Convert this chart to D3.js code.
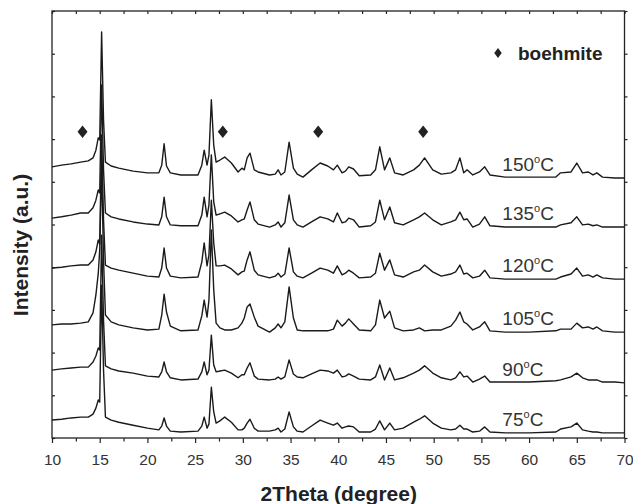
<!DOCTYPE html>
<html>
<head>
<meta charset="utf-8">
<script src="https://d3js.org/d3.v7.min.js"></script>
<style>
  body { margin: 0; background: #fff; }
  text { font-family: "Liberation Sans", Arial, sans-serif; fill: #222; }
</style>
</head>
<body>
<div id="chart"></div>
<script>

// 2theta grid (degree), shared by all six patterns
var twoTheta = [10, 11, 12, 13, 13.8, 14.3, 14.6, 14.85, 15.0, 15.2,
  15.4, 15.6, 16.2, 17, 18.5, 20, 21.2, 21.5, 21.75, 22.0,
  22.4, 23.5, 25.3, 25.7, 25.95, 26.25, 26.45, 26.7, 26.95, 27.2,
  27.6, 28.1, 28.8, 29.5, 29.9, 30.15, 30.45, 30.75, 31.2, 31.6,
  32.8, 33.4, 33.7, 34.0, 34.4, 34.85, 35.3, 35.7, 36.3, 37.2,
  38.1, 38.9, 39.5, 39.9, 40.4, 40.75, 41.1, 41.6, 42.2, 43.4,
  43.9, 44.35, 44.85, 45.4, 45.9, 46.8, 47.9, 48.5, 49.05, 49.9,
  50.8, 51.8, 52.3, 52.75, 53.15, 53.5, 54.1, 54.8, 55.35, 55.9,
  57.5, 60, 62.8, 63.3, 64.4, 65.0, 65.6, 66.2, 66.7, 67.1, 67.7, 69, 70];

// intensity (a.u., stacked)
var i75 = [4.2, 4.4, 4.7, 4.9, 4.9, 5.6, 7.0, 8.9, 8.4, 35.8,
  15.9, 4.9, 4.2, 3.7, 3.0, 2.3, 1.9, 2.8, 4.7, 2.8,
  1.6, 1.4, 1.6, 2.8, 4.9, 2.3, 3.3, 11.9, 6.1, 3.5,
  4.0, 4.9, 3.7, 1.9, 1.9, 2.3, 3.5, 4.4, 2.3, 1.6,
  1.6, 1.9, 2.3, 1.4, 2.1, 6.1, 2.6, 1.6, 1.4, 2.8,
  4.2, 3.5, 3.0, 3.5, 2.3, 2.6, 2.8, 2.6, 1.4, 1.4,
  2.1, 4.0, 1.9, 3.5, 1.9, 2.3, 3.7, 4.4, 5.2, 3.5,
  2.3, 1.9, 2.1, 3.0, 2.1, 2.1, 1.4, 1.6, 2.6, 1.4,
  1.2, 1.2, 1.4, 2.1, 2.6, 3.5, 1.9, 1.6, 1.4, 1.4, 1.2, 1.2, 1.2];

var i90 = [15.9, 16.2, 16.4, 16.6, 16.6, 17.8, 19.2, 21.1, 20.6, 47.5,
  27.6, 16.9, 16.2, 15.7, 15.2, 14.5, 14.3, 15.5, 17.8, 15.5,
  14.1, 13.6, 13.8, 15.5, 17.8, 14.8, 15.9, 24.1, 17.1, 15.5,
  15.7, 15.9, 15.2, 14.1, 14.8, 14.8, 16.4, 17.6, 14.5, 13.8,
  13.6, 13.8, 14.3, 13.8, 14.3, 18.3, 15.0, 14.3, 14.1, 15.0,
  15.9, 15.7, 15.2, 15.9, 14.3, 14.5, 15.0, 14.5, 13.8, 13.6,
  14.3, 17.1, 13.6, 16.4, 13.6, 14.1, 15.2, 15.9, 16.9, 15.2,
  14.1, 13.6, 14.1, 15.5, 14.3, 14.5, 13.1, 13.8, 14.5, 13.1,
  13.1, 13.1, 13.4, 13.6, 14.3, 15.2, 14.1, 13.6, 13.6, 13.6, 13.1, 13.1, 12.9];

var i105 = [26.5, 26.7, 26.7, 26.9, 27.2, 29.3, 33.5, 38.6, 44.0, 63.9,
  41.7, 28.8, 27.2, 26.5, 25.8, 25.3, 25.5, 28.8, 33.7, 29.5,
  26.2, 25.1, 25.3, 28.6, 32.3, 28.3, 32.3, 48.7, 34.7, 26.9,
  25.8, 25.3, 25.3, 25.8, 26.9, 28.1, 30.7, 31.4, 28.3, 26.2,
  24.8, 25.8, 26.7, 25.8, 27.2, 35.4, 28.1, 25.3, 25.1, 25.1,
  25.1, 25.1, 25.5, 27.6, 26.2, 26.9, 27.9, 26.7, 25.3, 25.1,
  26.5, 32.3, 28.1, 29.7, 25.8, 25.1, 25.3, 25.8, 25.1, 25.3,
  25.3, 26.2, 27.6, 29.5, 27.2, 26.7, 25.3, 26.0, 27.2, 25.1,
  24.8, 24.8, 25.1, 25.5, 25.5, 26.9, 25.8, 26.0, 25.5, 26.0, 25.1, 24.8, 24.8];

var i120 = [39.8, 40.0, 40.3, 40.5, 40.5, 41.7, 43.6, 46.4, 45.4, 71.0,
  51.1, 40.5, 39.8, 39.3, 38.6, 37.9, 37.7, 39.8, 44.5, 39.8,
  37.9, 37.5, 37.7, 41.2, 45.7, 40.3, 42.9, 55.7, 45.7, 40.3,
  40.3, 40.5, 39.6, 38.2, 38.9, 39.1, 41.7, 43.6, 39.3, 38.2,
  37.5, 37.9, 38.6, 37.7, 38.4, 44.5, 38.9, 37.9, 37.5, 38.6,
  39.8, 39.3, 38.6, 40.3, 38.2, 38.6, 39.3, 38.6, 37.5, 37.7,
  38.6, 43.3, 39.3, 41.7, 38.2, 37.7, 38.9, 39.3, 40.5, 38.9,
  37.9, 38.4, 38.9, 40.5, 38.4, 38.6, 37.5, 37.9, 39.3, 37.5,
  37.2, 37.2, 37.2, 37.7, 38.4, 39.8, 37.9, 38.2, 37.7, 38.2, 37.5, 37.2, 37.2];

var i135 = [51.5, 51.8, 52.2, 52.7, 52.7, 53.9, 55.7, 58.1, 57.4, 82.7,
  62.8, 52.7, 51.8, 51.3, 50.6, 50.1, 49.9, 51.8, 56.4, 51.8,
  49.9, 49.7, 49.7, 52.2, 56.4, 51.8, 54.6, 66.3, 55.3, 52.2,
  52.5, 52.9, 52.0, 50.6, 51.1, 51.3, 53.4, 55.3, 51.1, 50.1,
  49.4, 49.9, 50.6, 49.4, 50.4, 56.9, 51.1, 49.9, 49.4, 50.6,
  51.8, 51.3, 50.6, 52.7, 50.4, 50.6, 51.5, 51.1, 49.4, 49.7,
  50.6, 55.7, 51.1, 54.1, 50.4, 49.9, 51.1, 51.8, 52.7, 51.1,
  49.9, 50.6, 51.1, 52.9, 51.1, 51.3, 49.4, 50.1, 51.8, 49.7,
  49.4, 49.4, 49.4, 49.9, 50.4, 51.8, 49.9, 50.1, 49.7, 49.9, 49.4, 49.4, 49.4];

var i150 = [63.5, 63.9, 64.2, 64.6, 64.9, 65.6, 67.4, 70.3, 69.8, 95.1,
  74.5, 64.6, 63.7, 63.2, 62.5, 62.1, 62.1, 63.9, 68.9, 63.7,
  62.1, 61.6, 61.6, 63.9, 67.4, 63.9, 66.3, 79.2, 68.6, 64.6,
  65.1, 65.8, 64.4, 62.3, 63.2, 62.8, 65.6, 66.7, 62.8, 62.3,
  61.6, 61.8, 62.8, 61.6, 62.3, 69.3, 63.2, 61.8, 61.1, 62.8,
  64.4, 63.7, 62.8, 63.9, 62.1, 62.5, 63.5, 63.0, 61.4, 61.6,
  62.8, 68.2, 62.8, 65.6, 62.1, 61.6, 62.8, 63.9, 65.6, 62.8,
  61.8, 62.1, 62.8, 65.6, 62.1, 62.8, 61.6, 62.3, 63.5, 61.6,
  61.1, 61.1, 61.1, 62.1, 62.3, 64.4, 62.1, 62.3, 61.6, 62.1, 61.1, 60.9, 60.9];

var temps = ["75", "90", "105", "120", "135", "150"];
var patterns = [i75, i90, i105, i120, i135, i150];

// boehmite reflections marked with a diamond
var boehmitePeaks = [13.2, 27.9, 37.9, 48.9];

var width = 633, height = 504;
var plotLeft = 52, plotRight = 624.5, plotTop = 11, plotBottom = 438;

var svg = d3.select("#chart").append("svg")
  .attr("width", width)
  .attr("height", height);

var x = d3.scaleLinear().domain([10, 70]).range([plotLeft, plotRight]);
var y = d3.scaleLinear().domain([0, 100]).range([plotBottom, plotTop]);

var ink = "#222";

// minor + major ticks on the bottom, labels only on the majors
svg.append("g")
  .attr("transform", "translate(0," + plotBottom + ")")
  .call(d3.axisBottom(x).tickValues(d3.range(12.5, 70, 5)).tickSize(3.5).tickFormat(""));
svg.append("g")
  .attr("class", "xaxis")
  .attr("transform", "translate(0," + plotBottom + ")")
  .call(d3.axisBottom(x).tickValues(d3.range(10, 70.1, 5)).tickSize(5).tickPadding(11).tickFormat(d3.format("d")));
// top ticks pointing in
svg.append("g")
  .attr("transform", "translate(0," + plotTop + ")")
  .call(d3.axisBottom(x).tickValues(d3.range(10, 70.1, 2.5)).tickSize(3).tickFormat(""));
// left ticks pointing in, right ticks pointing out
svg.append("g")
  .attr("transform", "translate(" + plotLeft + ",0)")
  .call(d3.axisRight(y).tickValues(d3.range(0, 100.1, 10)).tickSize(3).tickFormat(""));
svg.append("g")
  .attr("transform", "translate(" + plotRight + ",0)")
  .call(d3.axisRight(y).tickValues(d3.range(0, 100.1, 10)).tickSize(3).tickFormat(""));

svg.selectAll(".domain").remove();
svg.selectAll(".tick line").attr("stroke", ink).attr("stroke-width", 1.2);
svg.selectAll(".xaxis text").style("font-size", "15.5px").style("fill", "#333");

svg.append("rect")
  .attr("x", plotLeft).attr("y", plotTop)
  .attr("width", plotRight - plotLeft).attr("height", plotBottom - plotTop)
  .attr("fill", "none").attr("stroke", ink).attr("stroke-width", 1.3);

// the patterns
var line = d3.line()
  .x(function(d) { return x(d[0]); })
  .y(function(d) { return y(d[1]); });

svg.selectAll(".pattern")
  .data(patterns)
  .enter().append("path")
  .attr("class", "pattern")
  .attr("d", function(d) { return line(d3.zip(twoTheta, d)); })
  .attr("fill", "none")
  .attr("stroke", "#1a1a1a")
  .attr("stroke-width", 1.4)
  .attr("stroke-linejoin", "round");

// temperature labels sit just above the flat right end of each curve
var lab = svg.selectAll(".temp")
  .data(patterns)
  .enter().append("text")
  .attr("class", "temp")
  .attr("x", x(57.2))
  .attr("y", function(d) { return y(d[d.length - 1]) - 7; })
  .style("font-size", "19px")
  .style("fill", "#333");
lab.append("tspan").text(function(d, i) { return temps[i]; });
lab.append("tspan").text("o").attr("dy", -8).style("font-size", "11px");
lab.append("tspan").text("C").attr("dy", 8);

// diamond markers
function diamond(w, h) {
  return "M0," + (-h / 2) + "L" + (w / 2) + ",0L0," + (h / 2) + "L" + (-w / 2) + ",0Z";
}
svg.selectAll(".mark")
  .data(boehmitePeaks)
  .enter().append("path")
  .attr("class", "mark")
  .attr("transform", function(d) { return "translate(" + x(d) + "," + y(71.7) + ")"; })
  .attr("d", diamond(10, 12.5))
  .attr("fill", ink);

// legend
svg.append("path")
  .attr("transform", "translate(498,53)")
  .attr("d", diamond(7.5, 10))
  .attr("fill", ink);
svg.append("text")
  .attr("x", 518).attr("y", 59.5)
  .style("font-size", "19px").style("font-weight", "bold")
  .text("boehmite");

// axis titles
svg.append("text")
  .attr("x", (plotLeft + plotRight) / 2 + 0.5).attr("y", 501)
  .attr("text-anchor", "middle")
  .style("font-size", "21px").style("font-weight", "bold")
  .text("2Theta (degree)");
svg.append("text")
  .attr("transform", "translate(28,245) rotate(-90)")
  .attr("text-anchor", "middle")
  .style("font-size", "21px").style("font-weight", "bold")
  .text("Intensity (a.u.)");

</script>
</body>
</html>
